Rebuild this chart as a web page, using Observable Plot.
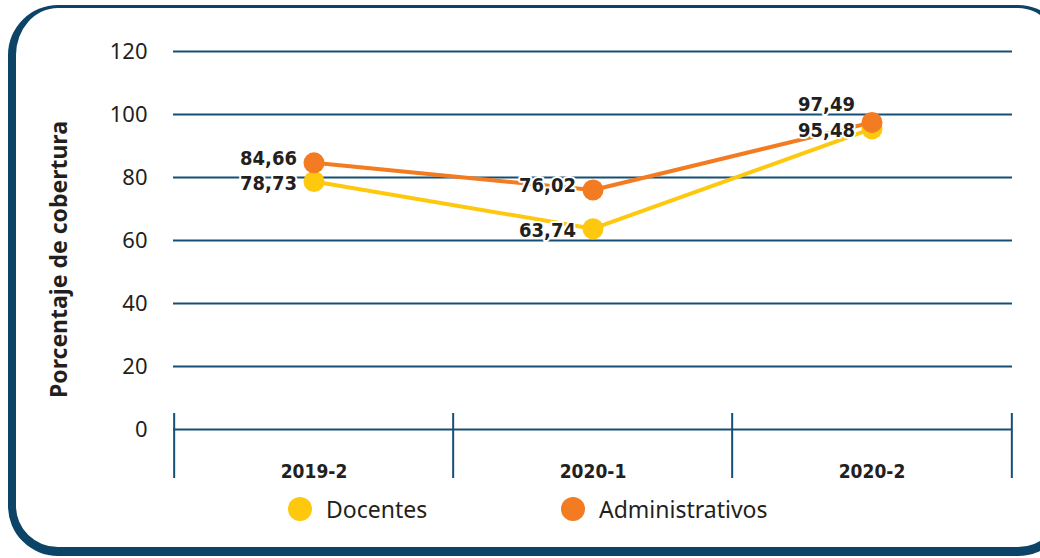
<!DOCTYPE html>
<html>
<head>
<meta charset="utf-8">
<script src="https://cdn.jsdelivr.net/npm/d3@7"></script>
<script src="https://cdn.jsdelivr.net/npm/@observablehq/plot@0.6"></script>
<style>
  html, body { margin: 0; padding: 0; background: #fff; }
  #wrap { position: relative; width: 1040px; height: 558px; overflow: hidden; }
  #chart { position: absolute; left: 0; top: 0; }
  #box {
    position: absolute; left: 8px; top: 5px; width: 1060px; height: 551px;
    box-sizing: border-box; border-style: solid; border-color: #0c4467;
    border-width: 3px 8px 9px 8px; border-radius: 50px; pointer-events: none;
  }
  .leg { position: absolute; top: 497px; height: 24px; display: flex; align-items: center;
    font-family: "Noto Sans", sans-serif; font-size: 23px; color: #231f20; }
  .leg span.sw { width: 24px; height: 24px; border-radius: 50%; margin-right: 14px; display: inline-block; }
</style>
</head>
<body>
<div id="wrap">
  <div id="chart"></div>
  <div id="legend"></div>
  <div id="box"></div>
</div>
<script>
const categories = ["2019-2", "2020-1", "2020-2"];
const docentes = [78.73, 63.74, 95.48];
const administrativos = [84.66, 76.02, 97.49];
const seriesNames = ["Docentes", "Administrativos"];
const seriesColors = ["#fdc80d", "#f37b21"];
const yTicks = [0, 20, 40, 60, 80, 100, 120];
const yLabel = "Porcentaje de cobertura";

const rows = [];
categories.forEach((c, i) => {
  rows.push({cat: c, serie: seriesNames[0], value: docentes[i]});
  rows.push({cat: c, serie: seriesNames[1], value: administrativos[i]});
});
const fmt = v => v.toFixed(2).replace(".", ",");

const W = 1040, H = 490, mL = 173, mR = 28, mT = 51, mB = 61;
const bw = (W - mL - mR) / categories.length;
const grid = "#164f75";
const ink = "#231f20";
const narrow = "'DejaVu Sans Condensed', 'Liberation Sans Narrow', sans-serif";
const last = categories[categories.length - 1];

const labelMark = (data, dy) => Plot.text(data, {
  x: "cat", y: "value", text: d => fmt(d.value), textAnchor: "end", dx: -17, dy,
  fill: ink, stroke: "white", strokeWidth: 4, paintOrder: "stroke",
  fontSize: 20, fontWeight: "bold", fontFamily: narrow
});
const isAdm = d => d.serie === seriesNames[1];

const chart = Plot.plot({
  width: W, height: H,
  marginLeft: mL, marginRight: mR, marginTop: mT, marginBottom: mB,
  style: {background: "transparent", overflow: "visible"},
  x: {type: "band", domain: categories, padding: 0, label: null},
  y: {domain: [0, 120], label: null},
  color: {domain: seriesNames, range: seriesColors},
  marks: [
    Plot.ruleY(yTicks, {stroke: grid, strokeWidth: 2}),
    Plot.ruleX(categories, {x: d => d, dx: -bw / 2, stroke: grid, strokeWidth: 2, insetTop: 362, insetBottom: -49}),
    Plot.ruleX([last], {x: d => d, dx: bw / 2, stroke: grid, strokeWidth: 2, insetTop: 362, insetBottom: -49}),
    Plot.axisY({ticks: yTicks, tickSize: 0, tickPadding: 26, fontSize: 22, fontFamily: "'Noto Sans', sans-serif", fill: ink, label: null}),
    Plot.axisX({tickSize: 0, tickPadding: 35, fontSize: 19, fontWeight: "bold", fontFamily: narrow, fill: ink, label: null}),
    Plot.text([yLabel], {frameAnchor: "left", textAnchor: "middle", rotate: -90, dx: -114, dy: 19, fontSize: 23, fontWeight: "bold", fontFamily: "'Noto Sans', sans-serif", fill: ink}),
    Plot.line(rows, {x: "cat", y: "value", z: "serie", stroke: "serie", strokeWidth: 4}),
    Plot.dot(rows, {x: "cat", y: "value", fill: "serie", r: 10.5}),
    labelMark(rows.filter(d => d.cat !== last && isAdm(d)), -4),
    labelMark(rows.filter(d => d.cat !== last && !isAdm(d)), 2),
    labelMark(rows.filter(d => d.cat === last && isAdm(d)), -18),
    labelMark(rows.filter(d => d.cat === last && !isAdm(d)), 2)
  ]
});
document.getElementById("chart").appendChild(chart);

const legLefts = [288, 561];
const legend = document.getElementById("legend");
seriesNames.forEach((name, i) => {
  const item = document.createElement("div");
  item.className = "leg";
  item.style.left = legLefts[i] + "px";
  item.innerHTML = `<span class="sw" style="background:${seriesColors[i]}"></span><span>${name}</span>`;
  legend.appendChild(item);
});
</script>
</body>
</html>
